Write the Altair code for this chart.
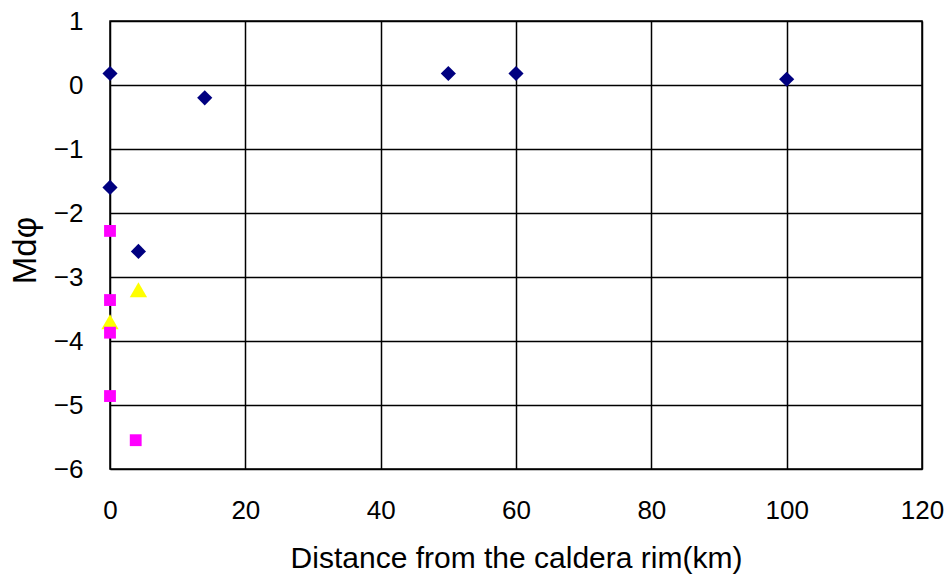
import altair as alt
import pandas as pd

# Median grain size (Mdφ) against distance from the caldera rim
navy_x = [0, 14, 50, 60, 100, 0, 4.2]
navy_y = [0.18, -0.2, 0.18, 0.18, 0.09, -1.6, -2.6]
magenta_x = [0, 0, 0, 0, 3.8]
magenta_y = [-2.28, -3.36, -3.87, -4.86, -5.55]
yellow_x = [0, 4.2]
yellow_y = [-3.7, -3.2]

x_ticks = [0, 20, 40, 60, 80, 100, 120]
y_ticks = [-6, -5, -4, -3, -2, -1, 0, 1]

FONT = "Liberation Sans"

x_enc = alt.X("dist:Q",
              scale=alt.Scale(domain=[0, 120], nice=False, zero=False),
              axis=alt.Axis(values=x_ticks, title="Distance from the caldera rim(km)",
                            ticks=False, domain=False, labelPadding=28, labelFlush=False,
                            labelFontSize=26, labelFont=FONT, labelColor="#000",
                            titleFont=FONT, titleFontSize=30, titleFontWeight="normal",
                            titleColor="#000", titleBaseline="alphabetic",
                            titleX=406, titleY=98,
                            grid=True, gridColor="#000", gridWidth=1.5))
y_enc = alt.Y("md:Q",
              scale=alt.Scale(domain=[-6, 1], nice=False, zero=False),
              axis=alt.Axis(values=y_ticks, title="Mdφ",
                            ticks=False, domain=False, labelPadding=27, labelFlush=False,
                            labelFontSize=26, labelFont=FONT, labelColor="#000",
                            titleFont=FONT, titleFontSize=33, titleFontWeight="normal",
                            titleColor="#000", titleBaseline="alphabetic",
                            titleAngle=-90, titleX=-75, titleY=229,
                            grid=True, gridColor="#000", gridWidth=1.5))


def series_layer(xs, ys, shape, color, size):
    data = pd.DataFrame({"dist": xs, "md": ys})
    return alt.Chart(data).mark_point(
        filled=True, opacity=1, strokeWidth=0, shape=shape, color=color, size=size
    ).encode(x=x_enc, y=y_enc)


chart = alt.layer(
    series_layer(navy_x, navy_y, "diamond", "#000080", 230),
    series_layer(yellow_x, yellow_y, "triangle-up", "#FFFF00", 300),
    series_layer(magenta_x, magenta_y, "square", "#FF00FF", 140),
).properties(
    width=812,
    height=448,
    autosize=alt.AutoSizeParams(type="none"),
    padding={"left": 110, "top": 21, "right": 27, "bottom": 110},
    background="white",
).configure_view(
    stroke="#000", strokeWidth=1.5
)

chart.save("out.html", embed_options={"renderer": "svg", "actions": False})
